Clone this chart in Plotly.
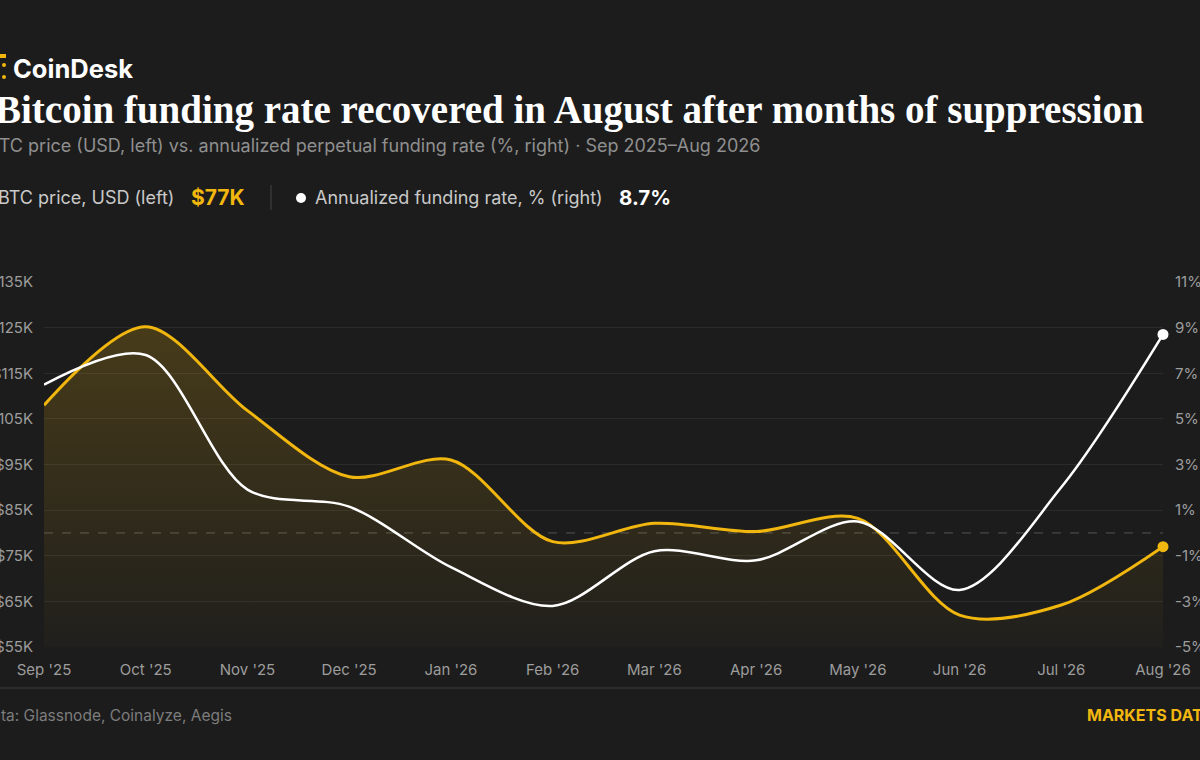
import plotly.graph_objects as go

# ---------------- data ----------------
months = ["Sep '25", "Oct '25", "Nov '25", "Dec '25", "Jan '26", "Feb '26",
          "Mar '26", "Apr '26", "May '26", "Jun '26", "Jul '26", "Aug '26"]
btc_price = [108000, 125200, 106800, 92300, 96000, 78100,
             82100, 80300, 83200, 62000, 64200, 77000]
funding_rate = [6.5, 7.8, 1.9, 1.15, -1.5, -3.2,
                -0.8, -1.2, 0.5, -2.5, 2.0, 8.7]

price_ticks = [55000, 65000, 75000, 85000, 95000, 105000, 115000, 125000, 135000]
price_tick_labels = ["$55K", "$65K", "$75K", "$85K", "$95K", "$105K", "$115K", "$125K", "$135K"]
rate_ticks = [-5, -3, -1, 1, 3, 5, 7, 9, 11]
rate_tick_labels = ["-5%", "-3%", "-1%", "1%", "3%", "5%", "7%", "9%", "11%"]

title_text = "Bitcoin funding rate recovered in August after months of suppression"
subtitle_text = "BTC price (USD, left) vs. annualized perpetual funding rate (%, right) · Sep 2025–Aug 2026"
legend_price = "BTC price, USD (left)"
legend_rate = "Annualized funding rate, % (right)"
latest_price = "$77K"
latest_rate = "8.7%"
source_text = "Data: Glassnode, Coinalyze, Aegis"
brand_text = "MARKETS DATA"

# ---------------- style ----------------
BG = "#1c1c1c"
GOLD = "#F2B70F"
WHITE = "#ffffff"
GRID = "#2b2b2b"
TICK = "#9d9d9d"
SANS = "Inter, Roboto, sans-serif"
SERIF = "Liberation Serif, DejaVu Serif, serif"

W, H = 1200, 760
L, R, T, B = 44, 1163, 282, 647
PW, PH = R - L, B - T


def px(x):
    return (x - L) / PW


def py(y):
    return (B - y) / PH


fig = go.Figure()

fig.add_trace(go.Scatter(
    x=months, y=btc_price, mode="lines", yaxis="y",
    line=dict(color=GOLD, width=3, shape="spline", smoothing=0.9),
    fill="tozeroy",
    fillgradient=dict(type="vertical",
                      colorscale=[[0, "rgba(242,183,15,0.02)"], [1, "rgba(242,183,15,0.20)"]],
                      start=55000, stop=125000),
    hoverinfo="skip", showlegend=False,
))
fig.add_trace(go.Scatter(
    x=months, y=funding_rate, mode="lines", yaxis="y2",
    line=dict(color=WHITE, width=2.5, shape="spline", smoothing=0.9),
    hoverinfo="skip", showlegend=False,
))
fig.add_trace(go.Scatter(
    x=[months[-1]], y=[btc_price[-1]], mode="markers", yaxis="y",
    marker=dict(color=GOLD, size=11), cliponaxis=False,
    hoverinfo="skip", showlegend=False,
))
fig.add_trace(go.Scatter(
    x=[months[-1]], y=[funding_rate[-1]], mode="markers", yaxis="y2",
    marker=dict(color=WHITE, size=11), cliponaxis=False,
    hoverinfo="skip", showlegend=False,
))

shapes = [
    dict(type="line", xref="paper", yref="y2", x0=0, x1=1, y0=0, y1=0,
         line=dict(color="#555555", width=1, dash="dash"), layer="below"),
    dict(type="line", xref="paper", yref="paper", x0=px(0), x1=px(W), y0=py(688), y1=py(688),
         line=dict(color="#333333", width=1.5)),
    dict(type="line", xref="paper", yref="paper", x0=px(271), x1=px(271), y0=py(185), y1=py(210),
         line=dict(color="#444444", width=1)),
    dict(type="circle", xref="paper", yref="paper", x0=px(296), x1=px(306), y0=py(193), y1=py(203),
         fillcolor=WHITE, line=dict(width=0)),
    dict(type="circle", xref="paper", yref="paper", x0=px(-20), x1=px(-10), y0=py(193), y1=py(203),
         fillcolor=GOLD, line=dict(width=0)),
    dict(type="rect", xref="paper", yref="paper", x0=px(-2), x1=px(6), y0=py(58), y1=py(54),
         fillcolor=GOLD, line=dict(width=0)),
    dict(type="circle", xref="paper", yref="paper", x0=px(2), x1=px(6), y0=py(67), y1=py(63),
         fillcolor=GOLD, line=dict(width=0)),
    dict(type="circle", xref="paper", yref="paper", x0=px(2), x1=px(6), y0=py(79), y1=py(75),
         fillcolor=GOLD, line=dict(width=0)),
]


def ann(text, x, y, size, color, family=SANS, anchor="left"):
    return dict(text=text, x=px(x), y=py(y), xref="paper", yref="paper",
                xanchor=anchor, yanchor="middle", showarrow=False,
                font=dict(size=size, color=color, family=family))


annotations = [
    ann("<b>CoinDesk</b>", 11, 68, 25.5, WHITE),
    ann("<b>" + title_text + "</b>", -7, 110, 39, WHITE, SERIF),
    ann(subtitle_text, -14, 145, 18, "#8f8f8f"),
    ann(legend_price, -4, 197, 18, "#c9c9c9"),
    ann("<b>" + latest_price + "</b>", 189, 197, 21, GOLD),
    ann(legend_rate, 313, 197, 18, "#c9c9c9"),
    ann("<b>" + latest_rate + "</b>", 617, 197, 20.5, WHITE),
    ann(source_text, -21, 715, 15.5, "#7d7d7d"),
    ann("<b>" + brand_text + "</b>", 1085, 715, 16, GOLD),
]

axis_font = dict(size=15, color=TICK, family=SANS)

fig.update_layout(
    width=W, height=H,
    paper_bgcolor=BG, plot_bgcolor=BG,
    margin=dict(l=L, r=W - R, t=T, b=H - B, pad=0, autoexpand=False),
    hovermode=False,
    showlegend=False,
    xaxis=dict(
        type="category", range=[0, len(months) - 1], automargin=False,
        showgrid=False, zeroline=False, showline=False, ticks="",
        tickfont=axis_font, ticklabelstandoff=12, fixedrange=True,
    ),
    yaxis=dict(
        range=[55000, 135000], tickvals=price_ticks, ticktext=price_tick_labels,
        automargin=False,
        showgrid=True, gridcolor=GRID, gridwidth=1, zeroline=False, showline=False, ticks="",
        tickfont=axis_font, ticklabelstandoff=10, fixedrange=True,
    ),
    yaxis2=dict(
        range=[-5, 11], tickvals=rate_ticks, ticktext=rate_tick_labels,
        overlaying="y", side="right", automargin=False,
        showgrid=False, zeroline=False, showline=False, ticks="",
        tickfont=axis_font, ticklabelstandoff=11, fixedrange=True,
    ),
    shapes=shapes,
    annotations=annotations,
)

fig.write_html(
    "out.html",
    config={"displayModeBar": False},
    post_script="document.body.style.margin='0';document.body.style.overflow='hidden';"
                "document.body.style.background='" + BG + "';",
)
